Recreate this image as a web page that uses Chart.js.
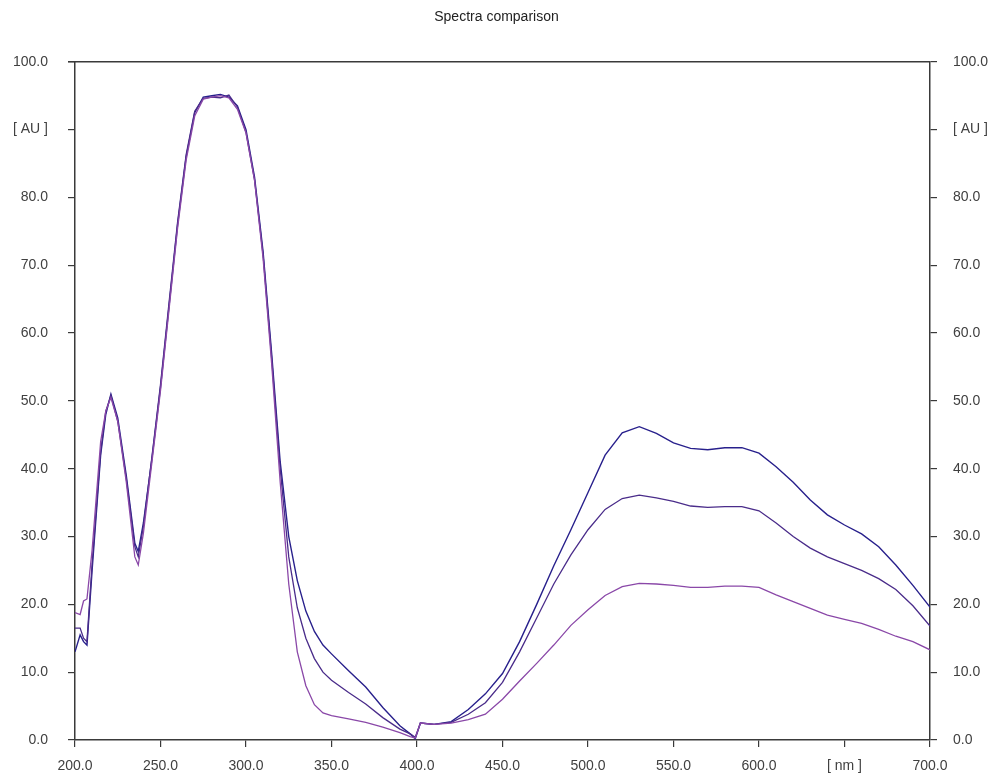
<!DOCTYPE html>
<html>
<head>
<meta charset="utf-8">
<title>Spectra comparison</title>
<script src="https://cdn.jsdelivr.net/npm/chart.js@4/dist/chart.umd.min.js"></script>
<style>
    html, body { margin: 0; padding: 0; background: #ffffff; }
    #wrap { width: 993px; height: 775px; }
</style>
</head>
<body>
<div id="wrap"><canvas id="spectraChart" width="993" height="775"></canvas></div>
<script>
// wavelengths [nm] shared by all three spectra
var wavelengths = [200, 203, 205, 207, 210, 215, 218, 221, 225, 230, 235, 237,
    240, 245, 250, 255, 260, 265, 270, 275, 280, 285, 290, 295, 300, 305, 310, 315, 320, 325, 330, 335, 340, 345, 350,
    360, 370, 380, 390, 396, 399, 402,
    410, 420, 430, 440, 450, 460, 470, 480, 490, 500, 510, 520, 530, 540, 550, 560, 570, 580, 590, 600,
    610, 620, 630, 640, 650, 660, 670, 680, 690, 700];

// absorbance [AU], top spectrum (dark navy)
var spectrumA = [13.0, 15.5, 14.5, 14.0, 25.0, 42.0, 48.0, 51.0, 47.5, 39.0, 29.0, 27.8,
    32.0, 41.5, 52.0, 64.0, 76.0, 86.0, 92.5, 94.8, 95.0, 95.2, 94.8, 93.5, 90.0, 83.0, 72.0, 57.0, 41.0, 30.0, 23.5, 19.0, 16.0, 14.0, 12.7,
    10.2, 7.8, 4.8, 2.1, 0.9, 0.2, 2.5,
    2.3, 2.7, 4.5, 6.8, 9.8, 14.5, 20.0, 25.7, 31.0, 36.5, 42.0, 45.3, 46.2, 45.2, 43.8, 43.0, 42.8, 43.1, 43.1, 42.3,
    40.3, 38.0, 35.4, 33.2, 31.7, 30.4, 28.5, 25.8, 22.8, 19.6];

// middle spectrum
var spectrumB = [16.5, 16.5, 15.0, 14.5, 26.0, 42.5, 48.5, 50.8, 47.0, 38.5, 28.5, 27.0,
    31.5, 41.8, 52.4, 64.5, 76.4, 86.3, 92.7, 94.6, 94.8, 94.7, 95.1, 93.3, 89.6, 82.6, 71.5, 56.3, 40.0, 27.0, 19.5, 15.0, 12.0, 10.0, 8.8,
    7.0, 5.3, 3.3, 1.6, 0.9, 0.4, 2.5,
    2.3, 2.6, 3.8, 5.5, 8.5, 13.0, 18.0, 23.0, 27.3, 31.0, 34.0, 35.6, 36.1, 35.7, 35.2, 34.5, 34.3, 34.4, 34.4, 33.8,
    32.0, 30.0, 28.3, 27.0, 26.0, 25.0, 23.8, 22.2, 19.8, 16.8];

// lowest spectrum (purple)
var spectrumC = [18.8, 18.5, 20.5, 20.8, 28.0, 44.0, 48.5, 50.5, 47.0, 38.0, 27.0, 25.8,
    30.5, 41.0, 51.5, 63.5, 75.5, 85.5, 92.0, 94.5, 94.8, 95.0, 94.7, 93.0, 89.5, 82.5, 71.0, 55.5, 38.0, 23.0, 13.0, 8.0, 5.2, 4.0, 3.6,
    3.1, 2.6, 1.9, 1.1, 0.5, 0.3, 2.5,
    2.3, 2.5, 3.0, 3.8, 6.0, 8.7, 11.3, 14.0, 16.9, 19.2, 21.3, 22.6, 23.1, 23.0, 22.8, 22.5, 22.5, 22.7, 22.7, 22.5,
    21.4, 20.4, 19.4, 18.4, 17.8, 17.2, 16.3, 15.3, 14.5, 13.3];

// axis ticks, with the unit label replacing one tick on each axis
var xTickStep = 50;
var yTickStep = 10;
var xUnitTick = 650;
var yUnitTick = 90;

function toPoints(values) {
    return wavelengths.map(function (wl, i) {
        return { x: wl, y: values[i] };
    });
}

var AXIS_COLOR = '#3a3a3a';
var TEXT_COLOR = '#404040';
var tickFont = { family: '"Liberation Sans", Arial, sans-serif', size: 14 };

// draws the frame line along the top of the plot area
var topFramePlugin = {
    id: 'topFrame',
    afterDraw: function (chart) {
        var ctx = chart.ctx;
        var area = chart.chartArea;
        ctx.save();
        ctx.strokeStyle = AXIS_COLOR;
        ctx.lineWidth = 1.5;
        ctx.beginPath();
        ctx.moveTo(area.left - 7, area.top);
        ctx.lineTo(area.right, area.top);
        ctx.stroke();
        ctx.restore();
    }
};

function yAxis(position, width, pad) {
    return {
        type: 'linear',
        position: position,
        min: 0,
        max: 100,
        ticks: {
            stepSize: yTickStep,
            color: TEXT_COLOR,
            font: tickFont,
            padding: pad,
            callback: function (value) {
                return value === yUnitTick ? '[ AU ]' : value.toFixed(1);
            }
        },
        grid: { drawOnChartArea: false, drawTicks: true, tickLength: 7, color: AXIS_COLOR, lineWidth: 1.2 },
        border: { display: true, color: AXIS_COLOR, width: 1.5 },
        afterFit: function (scale) { scale.width = width; }
    };
}

new Chart(document.getElementById('spectraChart').getContext('2d'), {
    type: 'line',
    data: {
        datasets: [
            { label: 'Spectrum C', data: toPoints(spectrumC), borderColor: '#8a48a8', borderWidth: 1.3, pointRadius: 0, tension: 0, yAxisID: 'y' },
            { label: 'Spectrum B', data: toPoints(spectrumB), borderColor: '#4a2c8a', borderWidth: 1.3, pointRadius: 0, tension: 0, yAxisID: 'y' },
            { label: 'Spectrum A', data: toPoints(spectrumA), borderColor: '#28208c', borderWidth: 1.4, pointRadius: 0, tension: 0, yAxisID: 'y' }
        ]
    },
    options: {
        responsive: false,
        animation: false,
        layout: { padding: { left: 0, right: 0, top: 0, bottom: 0 } },
        plugins: {
            legend: { display: false },
            tooltip: { enabled: false },
            title: {
                display: true,
                text: 'Spectra comparison',
                color: '#222',
                font: { family: '"Liberation Sans", Arial, sans-serif', size: 14, weight: 'normal' },
                padding: { top: 9, bottom: 36 }
            }
        },
        scales: {
            x: {
                type: 'linear',
                position: 'bottom',
                min: 200,
                max: 700,
                ticks: {
                    stepSize: xTickStep,
                    color: TEXT_COLOR,
                    font: tickFont,
                    padding: 11,
                    maxRotation: 0,
                    callback: function (value) {
                        return value === xUnitTick ? '[ nm ]' : value.toFixed(1);
                    }
                },
                grid: { drawOnChartArea: false, drawTicks: true, tickLength: 7, color: AXIS_COLOR, lineWidth: 1.2 },
                border: { display: true, color: AXIS_COLOR, width: 1.5 },
                afterFit: function (scale) { scale.height = 35; }
            },
            y: yAxis('left', 75, 20),
            y2: yAxis('right', 63, 16)
        }
    },
    plugins: [topFramePlugin]
});
</script>
</body>
</html>
